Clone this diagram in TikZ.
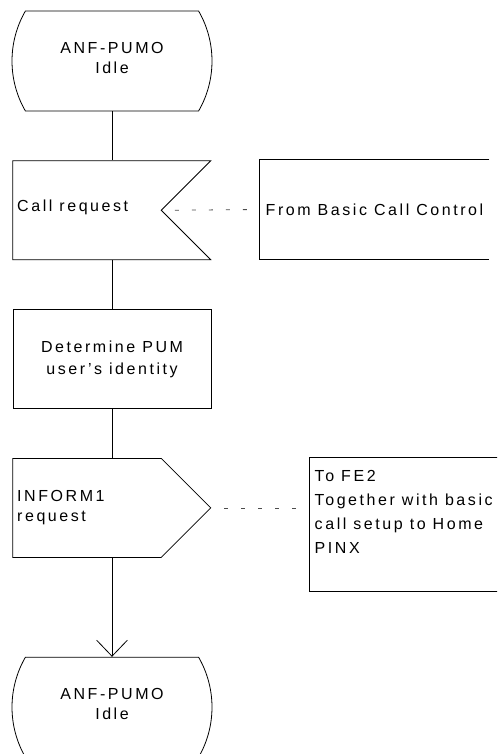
\documentclass[tikz,border=0pt]{standalone}
\usepackage{fontspec}
\setmainfont{Liberation Sans}[LetterSpace=16]
\usepackage{tikz}
\usetikzlibrary{shapes.misc, shapes.symbols, positioning}
\usetikzlibrary{arrows.meta}
\tikzset{>={Straight Barb[length=12pt,width=23pt]}}

\begin{document}
\begin{tikzpicture}[x=0.75pt, y=-0.75pt, line width=0.6pt, node distance=36.75pt, font=\fontsize{12}{15}\selectfont, state/.style={rounded rectangle, rounded rectangle arc length=60, draw=black, minimum width=150pt, minimum height=75pt, label={[align=center, yshift=2.5pt]center:#1}}, inbox/.style={signal, signal to=nowhere, signal from=east, draw=black, minimum width=148.5pt, minimum height=74.25pt}, outbox/.style={signal, signal to=east, draw=black, minimum width=148.5pt, minimum height=74.25pt}, taskbox/.style={rectangle, draw=black, minimum width=148.5pt, minimum height=74.25pt, align=center, font=\fontsize{12}{16.5}\selectfont}, openbox/.style={rectangle, draw=none, inner sep=0pt}, signalline/.style={draw=black!70, dash pattern=on 3pt off 9.75pt, dash phase=3pt}]
    \useasboundingbox (0,0) rectangle (497,754);
    \clip (0,0) rectangle (497,754);

    %Nodes
    \node[state={ANF-PUMO\\Idle}](idle) at (112,61){};
    \node[inbox](callreq)[below=of idle, xshift=-18.75pt, label={[anchor=west, yshift=2pt]west:Call request}]{};
    \node[taskbox](identity)[below=of idle.south |- callreq.south]{Determine PUM\\user's identity};
    \node[outbox](inform)[below=of identity, xshift=-18.75pt, label={[anchor=west, align=left]west:INFORM1\\request}]{};
    \node[state={ANF-PUMO\\Idle}](idle2)[below=74.25pt of inform, xshift=18.75pt]{};
    \node[openbox, minimum width=171.75pt, minimum height=74.25pt](basic) at (374.5,209.5){From Basic Call Control};
    \node[openbox, minimum width=150pt, minimum height=100.5pt, anchor=north west, label={[anchor=north west, align=left, inner sep=4pt, yshift=-5.5pt, font=\fontsize{12}{18}\selectfont]north west:To FE2\\Together with basic\\call setup to Home\\PINX}](fe2) at (309,457){};

    %Lines
    \draw (basic.north east) -- (basic.north west) -- (basic.south west) -- (basic.south east);
    \draw (fe2.north east) -- (fe2.north west) -- (fe2.south west) -- (fe2.south east);
    \draw (idle.south) -- (idle.south |- callreq.north);
    \draw (idle.south |- callreq.south) -- (identity.north);
    \draw (identity.south) -- (identity.south |- inform.north);
    \draw[->] (identity.south |- inform.south) -- (idle2.north);
    \draw[signalline] (callreq.east) -- (basic.west);
    \draw[signalline] (inform.east) -- (inform.east -| fe2.west);

    \end{tikzpicture}
\end{document}
